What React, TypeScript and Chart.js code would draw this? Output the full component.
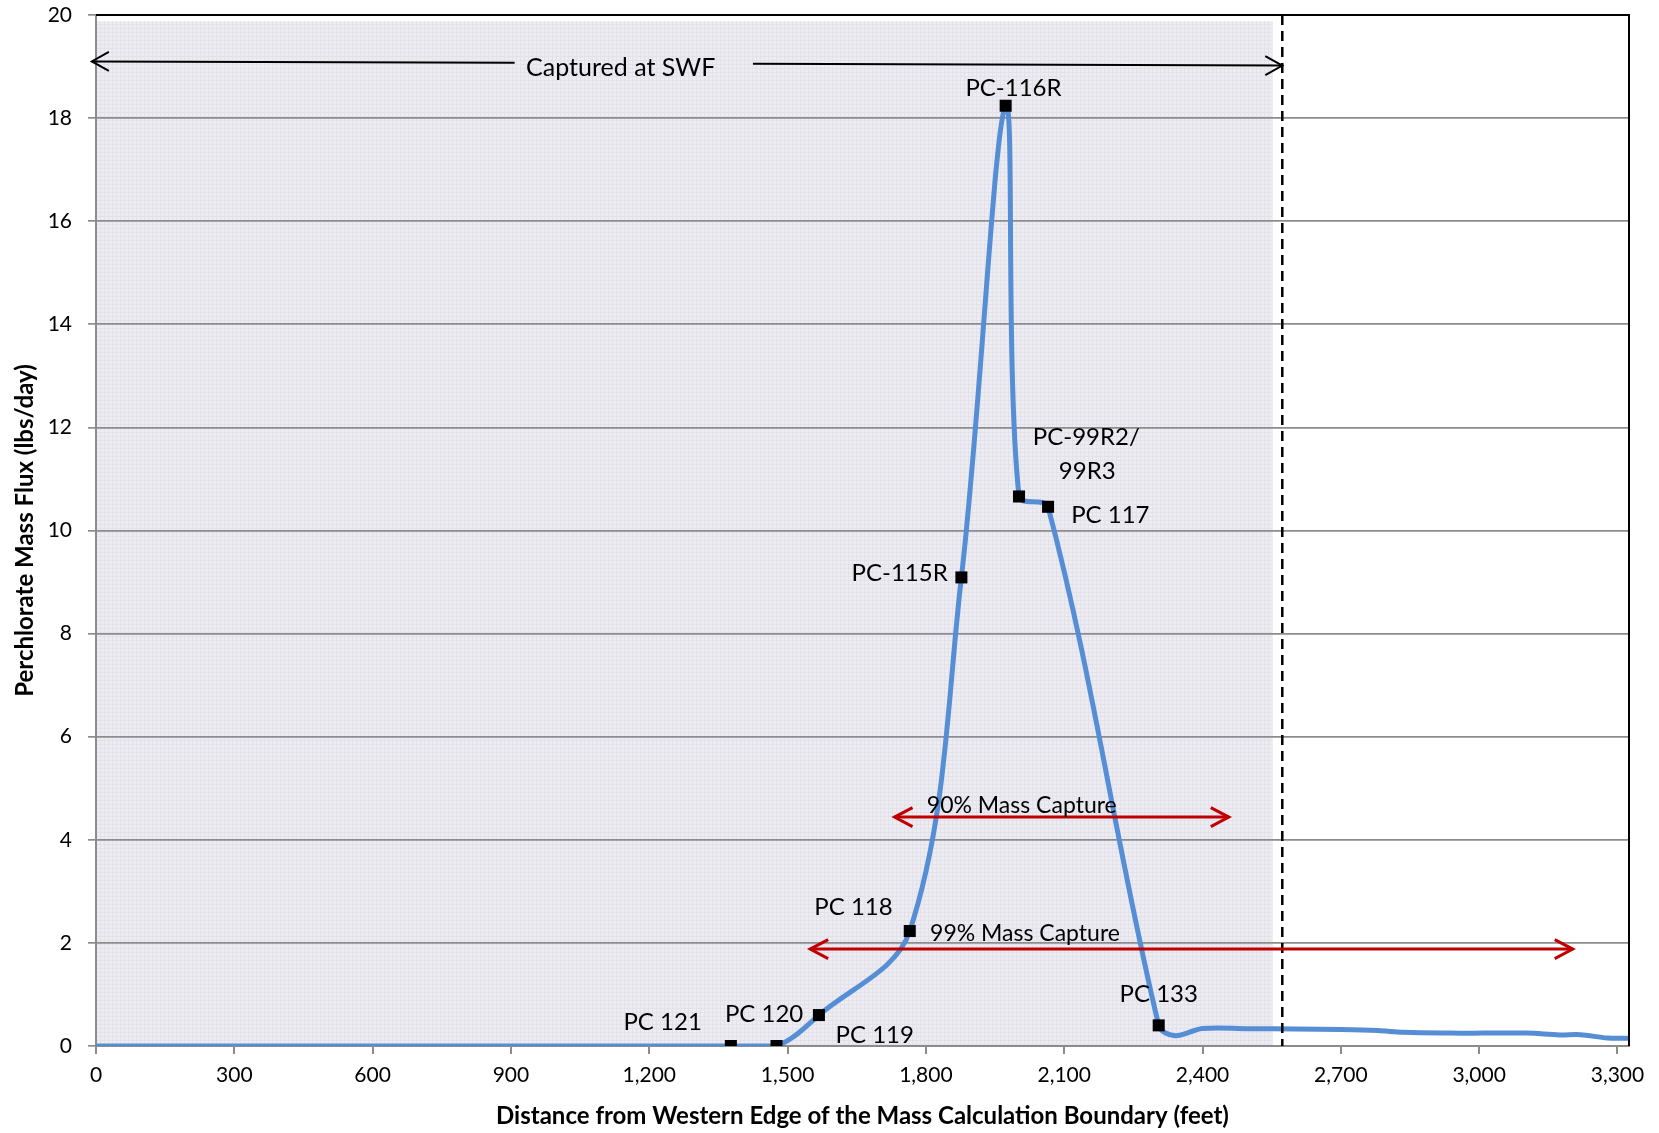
import { useEffect, useRef } from 'react';
import { Chart, registerables } from 'chart.js';

Chart.register(...registerables);

// ---- data ----
const wellNames = ['PC 121', 'PC 119', 'PC 120', 'PC 118', 'PC-115R', 'PC-116R', 'PC-99R2/99R3', 'PC 117', 'PC 133'];
const wellX = [1377, 1476, 1568, 1765, 1877, 1973, 2002, 2065, 2305];
const wellY = [0, 0, 0.6, 2.23, 9.09, 18.24, 10.66, 10.46, 0.4];

const startX = [0];
const startY = [0];
const tailX = [2340, 2400, 2500, 2600, 2700, 2780, 2836, 2937, 3009, 3103, 3175, 3219, 3278, 3325];
const tailY = [0.2, 0.34, 0.335, 0.33, 0.32, 0.3, 0.265, 0.25, 0.25, 0.25, 0.215, 0.22, 0.155, 0.15];

const xTickValues = [0, 300, 600, 900, 1200, 1500, 1800, 2100, 2400, 2700, 3000, 3300];
const yTickValues = [0, 2, 4, 6, 8, 10, 12, 14, 16, 18, 20];

const xTitle = 'Distance from Western Edge of the Mass Calculation Boundary (feet)';
const yTitle = 'Perchlorate Mass Flux (lbs/day)';

// annotation texts (anchor = text centre x, baseline y, in data units)
const labelTexts = ['Captured at SWF', 'PC-116R', 'PC-99R2/', '99R3', 'PC 117', 'PC-115R', 'PC 118', '99% Mass Capture', '90% Mass Capture', 'PC 121', 'PC 120', 'PC 119', 'PC 133'];
const labelX = [1138, 1990, 2148, 2150, 2200, 1743, 1643, 2015, 2008, 1229, 1449, 1689, 2305];
const labelY = [18.82, 18.42, 11.66, 10.99, 10.15, 9.02, 2.54, 2.04, 4.52, 0.31, 0.47, 0.05, 0.86];
const labelSize = [25, 24, 24, 24, 24, 24, 24, 23, 23, 24, 24, 24, 24];

// captured-at-SWF arrow (x from, x to; y at each end; gap for text)
const swfArrowX = [-9, 2573];
const swfArrowY = [19.1, 19.02];
const swfGapX = [908, 1425];

// mass capture arrows
const captureArrowX0 = [1732, 1549];
const captureArrowX1 = [2457, 3203];
const captureArrowY = [4.44, 1.88];

// SWF boundary (dashed line) and shaded captured zone
const swfBoundaryX = 2573;
const shadeX = [0, 2552];
const shadeTopY = 19.88;

export default function App() {
  const ref = useRef<HTMLCanvasElement>(null);

  useEffect(() => {
    const canvas = ref.current!;
    const ctx0 = canvas.getContext('2d')!;
    const pat = document.createElement('canvas');
    pat.width = 4;
    pat.height = 4;
    const pc = pat.getContext('2d')!;
    pc.fillStyle = '#EEECF3';
    pc.fillRect(0, 0, 4, 4);
    pc.fillStyle = '#E3E1EA';
    pc.fillRect(0, 0, 4, 1);
    pc.fillRect(0, 0, 1, 4);
    const pattern = ctx0.createPattern(pat, 'repeat')!;

    const wells = wellX.map((x, i) => ({ x, y: wellY[i] }));
    const curve = [
      ...startX.map((x, i) => ({ x, y: startY[i] })),
      ...wells,
      ...tailX.map((x, i) => ({ x, y: tailY[i] })),
    ];

    const fontFamily = 'Lato, "Open Sans", sans-serif';

    const drawArrowHead = (ctx: CanvasRenderingContext2D, x: number, y: number, dir: number, len: number, half: number) => {
      ctx.beginPath();
      ctx.moveTo(x - dir * len, y - half);
      ctx.lineTo(x, y);
      ctx.lineTo(x - dir * len, y + half);
      ctx.stroke();
    };

    const overlay = {
      id: 'overlay',
      beforeDraw(chart: any) {
        const { ctx, chartArea, scales } = chart;
        const xs = scales.x;
        const ys = scales.y;
        ctx.save();
        const x0 = xs.getPixelForValue(shadeX[0]);
        const x1 = xs.getPixelForValue(shadeX[1]);
        const y0 = ys.getPixelForValue(shadeTopY);
        ctx.fillStyle = pattern;
        ctx.fillRect(x0, y0, x1 - x0, chartArea.bottom - y0);
        ctx.restore();
      },
      afterDatasetsDraw(chart: any) {
        const { ctx, chartArea, scales } = chart;
        const xs = scales.x;
        const ys = scales.y;
        const px = (v: number) => xs.getPixelForValue(v);
        const py = (v: number) => ys.getPixelForValue(v);
        ctx.save();

        // top & right borders
        ctx.strokeStyle = '#000';
        ctx.lineWidth = 2;
        ctx.beginPath();
        ctx.moveTo(chartArea.left, chartArea.top);
        ctx.lineTo(chartArea.right, chartArea.top);
        ctx.lineTo(chartArea.right, chartArea.bottom);
        ctx.stroke();

        // dashed SWF boundary
        ctx.setLineDash([10, 6]);
        ctx.lineWidth = 2.5;
        ctx.beginPath();
        ctx.moveTo(px(swfBoundaryX), chartArea.top);
        ctx.lineTo(px(swfBoundaryX), chartArea.bottom);
        ctx.stroke();
        ctx.setLineDash([]);

        // captured at SWF arrow
        const ax0 = px(swfArrowX[0]);
        const ax1 = px(swfArrowX[1]);
        const ay0 = py(swfArrowY[0]);
        const ay1 = py(swfArrowY[1]);
        const yAt = (x: number) => ay0 + ((x - ax0) / (ax1 - ax0)) * (ay1 - ay0);
        const g0 = px(swfGapX[0]);
        const g1 = px(swfGapX[1]);
        ctx.lineWidth = 2;
        ctx.beginPath();
        ctx.moveTo(ax0, ay0);
        ctx.lineTo(g0, yAt(g0));
        ctx.moveTo(g1, yAt(g1));
        ctx.lineTo(ax1, ay1);
        ctx.stroke();
        drawArrowHead(ctx, ax0, ay0, -1, 17, 9.5);
        drawArrowHead(ctx, ax1, ay1, 1, 17, 9.5);

        // red mass capture arrows
        ctx.strokeStyle = '#C00000';
        ctx.lineWidth = 3;
        for (let i = 0; i < captureArrowY.length; i++) {
          const xa = px(captureArrowX0[i]);
          const xb = px(captureArrowX1[i]);
          const y = py(captureArrowY[i]);
          ctx.beginPath();
          ctx.moveTo(xa, y);
          ctx.lineTo(xb, y);
          ctx.stroke();
          drawArrowHead(ctx, xa, y, -1, 18, 9.5);
          drawArrowHead(ctx, xb, y, 1, 18, 9.5);
        }

        // labels
        ctx.fillStyle = '#000';
        ctx.textAlign = 'center';
        ctx.textBaseline = 'alphabetic';
        for (let i = 0; i < labelTexts.length; i++) {
          ctx.font = `${labelSize[i]}px ${fontFamily}`;
          ctx.fillText(labelTexts[i], px(labelX[i]), py(labelY[i]));
        }
        ctx.restore();
      },
    };

    const chart = new Chart(canvas, {
      type: 'line',
      data: {
        datasets: [
          {
            type: 'line',
            label: 'Mass flux',
            data: curve,
            borderColor: '#558ED5',
            borderWidth: 5,
            pointRadius: 0,
            tension: 0.35,
            fill: false,
            order: 2,
          } as any,
          {
            type: 'scatter',
            label: 'Wells',
            data: wells,
            pointStyle: 'rect',
            pointRadius: 8.5,
            pointHoverRadius: 8.5,
            backgroundColor: '#000',
            borderColor: '#000',
            borderWidth: 0,
            showLine: false,
            order: 1,
          } as any,
        ],
      },
      options: {
        responsive: false,
        animation: false,
        events: [],
        layout: { padding: { top: 15, right: 30, left: 0, bottom: 0 } },
        plugins: { legend: { display: false }, tooltip: { enabled: false } },
        scales: {
          x: {
            type: 'linear',
            min: 0,
            max: 3325,
            afterFit: (s: any) => {
              s.height = 87;
              s.paddingLeft = 0;
              s.paddingRight = 0;
              s.paddingTop = 0;
              s.paddingBottom = 0;
            },
            afterBuildTicks: (s: any) => {
              s.ticks = xTickValues.map((v) => ({ value: v }));
            },
            ticks: {
              padding: 9,
              color: '#000',
              font: { size: 21, family: fontFamily },
              maxRotation: 0,
              autoSkip: false,
              callback: (v: any) => Number(v).toLocaleString('en-US'),
            },
            grid: { drawOnChartArea: false, drawTicks: true, tickLength: 8, color: '#8C8C8C', lineWidth: 2 },
            border: { color: '#8C8C8C', width: 2 },
            title: {
              display: true,
              text: xTitle,
              color: '#000',
              font: { size: 24, weight: 'bold', family: fontFamily },
              padding: { top: 0, bottom: 2 },
            },
          },
          y: {
            type: 'linear',
            min: 0,
            max: 20,
            afterFit: (s: any) => {
              s.width = 96;
              s.paddingTop = 0;
              s.paddingBottom = 0;
              s.paddingLeft = 0;
              s.paddingRight = 0;
            },
            afterBuildTicks: (s: any) => {
              s.ticks = yTickValues.map((v) => ({ value: v }));
            },
            ticks: {
              padding: 16,
              color: '#000',
              font: { size: 21, family: fontFamily },
            },
            grid: { color: '#8C8C8C', lineWidth: 1.7, tickLength: 8 },
            border: { color: '#8C8C8C', width: 2 },
            title: {
              display: true,
              text: yTitle,
              color: '#000',
              font: { size: 24, weight: 'bold', family: fontFamily },
              padding: { top: 11, bottom: 0 },
            },
          },
        },
      },
      plugins: [overlay],
    });

    return () => chart.destroy();
  }, []);

  return (
    <div style={{ position: 'absolute', left: 0, top: 0, width: 1659, height: 1133, background: '#fff' }}>
      <canvas ref={ref} width={1659} height={1133} style={{ display: 'block' }} />
    </div>
  );
}
